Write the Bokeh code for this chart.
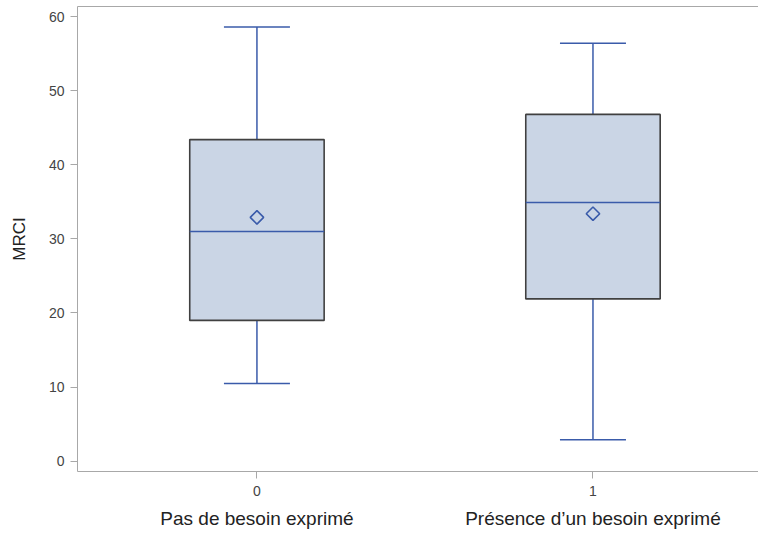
import numpy as np
from bokeh.plotting import figure
from bokeh.models import Range1d, FixedTicker, LinearAxis, ColumnDataSource
from bokeh.embed import file_html
from bokeh.resources import INLINE

# ---- data ----
categories = ["0", "1"]
group_labels = ["Pas de besoin exprimé", "Présence d\u2019un besoin exprimé"]
q1 = [19.0, 21.9]
median = [31.0, 34.9]
q3 = [43.4, 46.8]
lower = [10.5, 2.9]
upper = [58.6, 56.4]
mean = [32.9, 33.4]
y_ticks = [0, 10, 20, 30, 40, 50, 60]

BLUE = "#3A5BAA"
FILL = "#CAD5E5"
EDGE = "#404040"
GRAY = "#A8A8A8"
FONT = "Liberation Sans"

x = np.arange(len(categories)).astype(float)
box_w = 0.40

src = ColumnDataSource(dict(
    x=x, q1=q1, q3=q3, med=median, lo=lower, hi=upper, mean=mean,
    xl=x - box_w / 2, xr=x + box_w / 2,
))

p = figure(width=758, height=531, output_backend="svg", toolbar_location=None,
           x_range=Range1d(-0.534, 1.4926), y_range=Range1d(-1.39, 61.36),
           min_border_left=77, min_border_right=0, min_border_top=6,
           min_border_bottom=60)
p.outline_line_color = None
p.grid.visible = False
p.background_fill_color = "white"

# whisker stems
p.segment(x0="x", y0="q3", x1="x", y1="hi", source=src, line_color=BLUE, line_width=1.5)
p.segment(x0="x", y0="q1", x1="x", y1="lo", source=src, line_color=BLUE, line_width=1.5)
# caps
p.dash(x="x", y="hi", source=src, size=66, line_color=BLUE, line_width=1.5)
p.dash(x="x", y="lo", source=src, size=66, line_color=BLUE, line_width=1.5)
# boxes
p.vbar(x="x", bottom="q1", top="q3", width=box_w, source=src,
       fill_color=FILL, line_color=EDGE, line_width=1.6)
# median
p.segment(x0="xl", y0="med", x1="xr", y1="med", source=src, line_color=BLUE, line_width=1.5)
# mean
p.scatter(x="x", y="mean", source=src, marker="square", angle=np.pi / 4, size=9.5,
          fill_color=None, line_color=BLUE, line_width=1.6)

# y axis
ya = p.yaxis[0]
ya.ticker = FixedTicker(ticks=y_ticks)
ya.axis_label = "MRCI"
ya.axis_label_text_font = FONT
ya.axis_label_text_font_size = "17px"
ya.axis_label_text_font_style = "normal"
ya.axis_label_text_color = "#222222"
ya.axis_label_standoff = 17
ya.major_label_text_font = FONT
ya.major_label_text_font_size = "14px"
ya.major_label_text_color = "#444444"
ya.major_label_standoff = 6
ya.major_tick_out = 7
ya.major_tick_in = 0
ya.minor_tick_out = 0
ya.minor_tick_in = 0
ya.axis_line_color = GRAY
ya.major_tick_line_color = GRAY

# x axis (category codes)
xa = p.xaxis[0]
xa.ticker = FixedTicker(ticks=list(x))
xa.major_label_overrides = {int(i): c for i, c in zip(x, categories)}
xa.major_label_text_font = FONT
xa.major_label_text_font_size = "14px"
xa.major_label_text_color = "#444444"
xa.major_label_standoff = 7
xa.major_tick_out = 7
xa.major_tick_in = 0
xa.minor_tick_out = 0
xa.minor_tick_in = 0
xa.axis_line_color = GRAY
xa.major_tick_line_color = GRAY

# group descriptions below
ga = LinearAxis(ticker=FixedTicker(ticks=list(x)),
                major_label_overrides={int(i): g for i, g in zip(x, group_labels)},
                axis_line_color=None, major_tick_line_color=None,
                minor_tick_line_color=None, major_tick_out=0, major_tick_in=0,
                minor_tick_out=0, minor_tick_in=0,
                major_label_text_font=FONT, major_label_text_font_size="19px",
                major_label_text_color="#222222", major_label_standoff=9)
p.add_layout(ga, "below")

# top frame line
ta = LinearAxis(ticker=FixedTicker(ticks=[]), axis_line_color=GRAY,
                major_tick_out=0, major_tick_in=0, minor_tick_out=0, minor_tick_in=0,
                major_label_text_font_size="0px", major_label_standoff=0)
p.add_layout(ta, "above")

open("out.html", "w").write(file_html(p, INLINE))
